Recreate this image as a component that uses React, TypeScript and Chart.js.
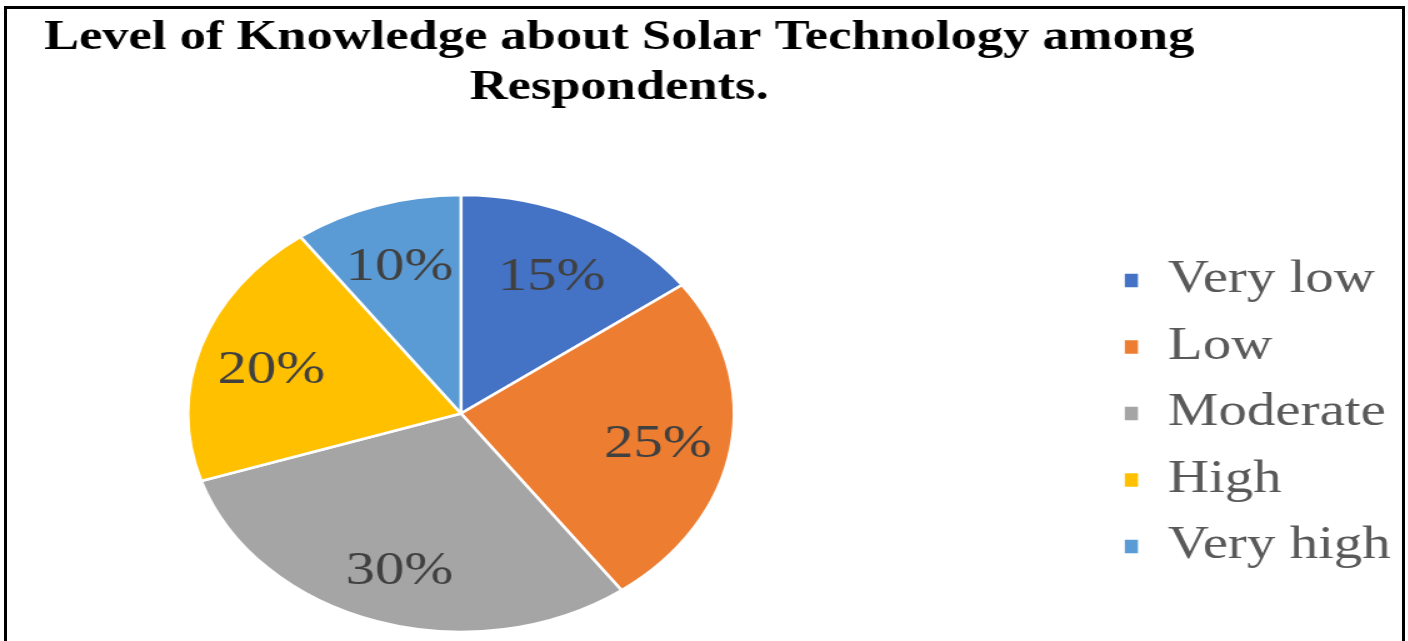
import React, { useEffect, useRef } from "react";
import { Chart, registerables } from "chart.js";

Chart.register(...registerables);

const categories = ["Very low", "Low", "Moderate", "High", "Very high"];
const shares = [15, 25, 30, 20, 10];
const sliceColors = ["#4472C4", "#ED7D31", "#A5A5A5", "#FFC000", "#5B9BD5"];
const titleLines = ["Level of Knowledge about Solar Technology among", "Respondents."];

const SX = 1.25;
const CW = 1126;
const CH = 641;
const SERIF = "'Liberation Serif', 'Times New Roman', serif";
const PLOT_LEFT = -140;

// extend the plot area to the left (negative padding is clamped by the layout engine)
const widenArea = {
  id: "widenArea",
  afterLayout(chart: any) {
    const ca = chart.chartArea;
    ca.left = PLOT_LEFT;
    ca.width = ca.right - ca.left;
  },
};

const pctLabels = {
  id: "pctLabels",
  afterDatasetsDraw(chart: any) {
    const ctx = chart.ctx;
    const meta = chart.getDatasetMeta(0);
    const data = chart.data.datasets[0].data as number[];
    const total = data.reduce((a, b) => a + b, 0);
    ctx.save();
    ctx.font = `47px ${SERIF}`;
    ctx.fillStyle = "#404040";
    ctx.textAlign = "center";
    ctx.textBaseline = "middle";
    meta.data.forEach((arc: any, i: number) => {
      const { x, y, startAngle, endAngle, outerRadius } = arc.getProps(
        ["x", "y", "startAngle", "endAngle", "outerRadius"],
        true
      );
      const mid = (startAngle + endAngle) / 2;
      const r = outerRadius * 0.73;
      ctx.fillText(
        Math.round((data[i] / total) * 100) + "%",
        x + Math.cos(mid) * r,
        y + Math.sin(mid) * r + 6
      );
    });
    ctx.restore();
  },
};

export default function App() {
  const ref = useRef<HTMLCanvasElement | null>(null);

  useEffect(() => {
    if (!ref.current) return;
    const chart = new Chart(ref.current, {
      type: "pie",
      data: {
        labels: categories,
        datasets: [
          {
            data: shares,
            backgroundColor: sliceColors,
            borderColor: "#ffffff",
            borderWidth: 2.5,
            radius: 218.5,
          } as any,
        ],
      },
      options: {
        animation: false,
        responsive: false,
        devicePixelRatio: 1,
        layout: { padding: { left: -127, right: 8.4, top: 0, bottom: 0 } },
        plugins: {
          tooltip: { enabled: false },
          title: {
            display: true,
            text: titleLines,
            color: "#000000",
            font: { family: SERIF, size: 42, weight: "bold", lineHeight: 50 / 42 },
            padding: { top: 13, bottom: 73 },
          },
          legend: {
            position: "right",
            align: "center",
            fullSize: false,
            maxWidth: 240,
            labels: {
              color: "#595959",
              font: { family: SERIF, size: 45.5 },
              boxWidth: 13,
              boxHeight: 16,
              padding: 21,
            },
          },
        },
      },
      plugins: [widenArea, pctLabels],
    });
    return () => chart.destroy();
  }, []);

  return (
    <div
      style={{
        position: "fixed",
        left: 0,
        top: 0,
        width: 1408,
        height: 641,
        overflow: "hidden",
        background: "#ffffff",
      }}
    >
      <canvas
        ref={ref}
        width={CW}
        height={CH}
        style={{
          position: "absolute",
          left: 0,
          top: 0,
          width: CW + "px",
          height: CH + "px",
          transform: `scaleX(${SX})`,
          transformOrigin: "0 0",
        }}
      />
      <div
        style={{
          position: "absolute",
          left: 4,
          top: 6,
          width: 1401,
          height: 700,
          boxSizing: "border-box",
          border: "3px solid #000000",
          pointerEvents: "none",
        }}
      />
    </div>
  );
}
